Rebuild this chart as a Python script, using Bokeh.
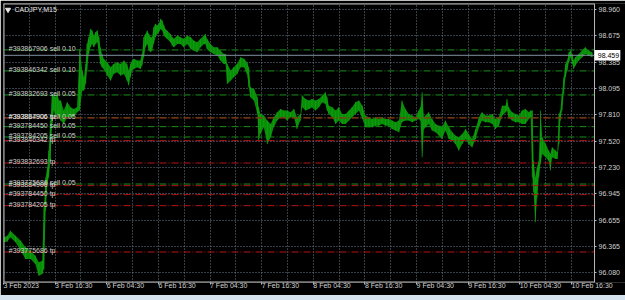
from bokeh.plotting import figure
from bokeh.models import Range1d, FixedTicker, PrintfTickFormatter, Spacer
from bokeh.layouts import column
from bokeh.core.properties import value
from bokeh.embed import file_html
from bokeh.resources import INLINE

symbol = "CADJPY,M15"

# x axis: hours of trading time since first bar (3 Feb 2023 04:30)
x_tick_hours = [0, 12, 24, 36, 48, 60, 72, 84, 96, 108, 120, 132]
x_tick_labels = ["3 Feb 2023", "3 Feb 16:30", "6 Feb 04:30", "6 Feb 16:30", "7 Feb 04:30",
                 "7 Feb 16:30", "8 Feb 04:30", "8 Feb 16:30", "9 Feb 04:30", "9 Feb 16:30",
                 "10 Feb 04:30", "10 Feb 16:30"]
x_grid_hours = [0, 6, 12, 18, 24, 30, 36, 42, 48, 54, 60, 66, 72, 78, 84, 90, 96, 102,
                108, 114, 120, 126, 132]
price_ticks = [98.960, 98.675, 98.385, 98.095, 97.810, 97.520, 97.230, 96.945, 96.655, 96.365, 96.080]
bid = 98.459

t = [0.1, 0.9, 1.6, 2.8, 4.0, 5.1, 6.3, 7.4, 8.2, 9.0,
     9.4, 9.8, 10.2, 10.5, 10.9, 11.3, 11.7, 12.1, 12.5, 12.9,
     13.3, 14.0, 14.8, 15.6, 16.3, 17.1, 17.7, 18.3, 18.7, 19.1,
     19.4, 19.8, 20.2, 20.6, 21.0, 21.4, 21.8, 22.2, 22.5, 22.9,
     23.3, 24.1, 24.9, 25.6, 26.4, 27.2, 28.0, 28.7, 29.1, 29.5,
     29.9, 30.3, 31.1, 31.8, 32.2, 32.6, 33.0, 33.4, 33.8, 34.2,
     34.5, 34.9, 35.3, 35.7, 36.1, 36.5, 36.9, 37.3, 37.6, 38.0,
     38.8, 39.2, 39.6, 40.4, 41.1, 41.9, 42.7, 43.5, 44.2, 45.0,
     45.8, 46.6, 46.9, 47.3, 48.1, 48.9, 49.7, 50.4, 51.2, 51.6,
     52.0, 52.8, 53.5, 54.3, 55.1, 55.9, 56.6, 57.0, 57.4, 58.2,
     59.0, 59.3, 59.7, 60.5, 61.3, 62.1, 62.8, 63.6, 64.4, 65.1,
     65.9, 66.7, 67.5, 68.2, 69.0,
     69.4, 70.2, 71.0, 71.7, 72.5, 73.3, 74.1, 74.8, 75.2, 75.6,
     76.4, 77.2, 77.9, 78.7, 79.5, 80.3, 81.0, 81.8, 82.6, 83.4,
     84.1, 84.9, 85.7, 86.4, 87.2, 88.0, 88.8, 89.5, 90.3, 91.1,
     91.9, 92.6, 93.4, 94.2, 95.0, 95.7, 96.5, 96.9, 97.3, 97.7,
     98.1, 98.8, 99.6, 100.4, 101.2, 101.9, 102.7, 103.5, 104.3, 105.0,
     105.8, 106.6, 107.4, 108.1, 108.9, 109.7, 110.5, 111.2, 112.0, 112.8,
     113.6, 114.3, 115.1, 115.9, 116.7, 117.0, 117.4, 118.2, 119.0, 119.8,
     120.5, 121.3, 122.1, 122.5, 122.9, 123.2, 123.6, 124.0, 124.4, 124.8,
     125.2, 126.0, 126.7, 127.1, 127.5, 128.3, 128.7, 129.1, 129.4, 129.8,
     130.2, 130.6, 131.0, 131.4, 131.8, 132.2, 132.5, 132.9, 133.7, 134.5,
     135.2, 136.0, 136.8]

high = [96.466, 96.485, 96.539, 96.485, 96.430, 96.357, 96.320, 96.266, 96.193, 96.211,
        96.795, 97.123, 97.233, 97.416, 97.744, 98.036, 98.018, 98.000, 98.036, 97.963,
        97.963, 97.854, 97.945, 97.890, 97.872, 97.890, 98.529, 98.292, 98.219, 98.365,
        98.584, 98.657, 98.748, 98.730, 98.675, 98.712, 98.730, 98.657, 98.547, 98.474,
        98.420, 98.383, 98.328, 98.365, 98.383, 98.365, 98.401, 98.365, 98.292, 98.365,
        98.401, 98.420, 98.401, 98.401, 98.474, 98.657, 98.693, 98.730, 98.693, 98.657,
        98.657, 98.766, 98.803, 98.785, 98.803, 98.858, 98.839, 98.785, 98.748, 98.730,
        98.693, 98.657, 98.639, 98.675, 98.657, 98.639, 98.675, 98.657, 98.620, 98.602,
        98.639, 98.675, 98.693, 98.639, 98.584, 98.547, 98.547, 98.511, 98.474, 98.474,
        98.365, 98.292, 98.328, 98.365, 98.438, 98.420, 98.383, 98.328, 98.109, 98.091,
        98.000, 97.890, 97.817, 97.799, 97.744, 97.708, 97.781, 97.835, 97.872, 97.854,
        97.854, 97.835, 97.872, 97.781, 97.817,
        98.018, 97.981, 97.963, 97.981, 97.963, 97.981, 98.018, 98.054, 98.000, 97.908,
        97.890, 97.854, 97.890, 97.817, 97.817, 97.854, 97.890, 97.945, 97.963, 97.908,
        97.799, 97.781, 97.762, 97.781, 97.762, 97.781, 97.762, 97.762, 97.744, 97.726,
        97.744, 97.963, 97.872, 97.817, 97.799, 97.781, 97.854, 97.890, 98.054, 97.781,
        97.799, 97.835, 97.762, 97.708, 97.689, 97.671, 97.744, 97.671, 97.616, 97.580,
        97.562, 97.598, 97.653, 97.598, 97.543, 97.653, 97.781, 97.835, 97.799, 97.799,
        97.817, 97.762, 97.781, 97.908, 97.908, 97.981, 97.890, 97.835, 97.817, 97.799,
        97.854, 97.872, 97.835, 97.854, 97.854, 97.306, 97.123, 97.233, 97.306, 97.854,
        97.562, 97.489, 97.416, 97.379, 97.452, 97.416, 97.397, 97.817, 97.854, 98.036,
        98.219, 98.365, 98.401, 98.493, 98.511, 98.474, 98.401, 98.438, 98.474, 98.511,
        98.547, 98.511, 98.493]

low = [96.412, 96.422, 96.466, 96.412, 96.320, 96.229, 96.229, 96.174, 96.047, 96.065,
       96.119, 96.758, 97.050, 97.123, 97.306, 97.708, 97.854, 97.781, 97.817, 97.781,
       97.744, 97.708, 97.781, 97.781, 97.781, 97.835, 97.854, 98.073, 98.073, 98.146,
       98.292, 98.474, 98.547, 98.584, 98.547, 98.584, 98.602, 98.474, 98.365, 98.328,
       98.310, 98.237, 98.182, 98.255, 98.274, 98.237, 98.255, 98.182, 98.128, 98.219,
       98.292, 98.310, 98.328, 98.310, 98.347, 98.438, 98.547, 98.584, 98.511, 98.493,
       98.511, 98.584, 98.657, 98.693, 98.712, 98.748, 98.730, 98.675, 98.657, 98.639,
       98.602, 98.566, 98.547, 98.584, 98.584, 98.547, 98.584, 98.529, 98.511, 98.493,
       98.547, 98.584, 98.584, 98.529, 98.493, 98.474, 98.456, 98.401, 98.365, 98.365,
       98.146, 98.182, 98.219, 98.255, 98.328, 98.328, 98.255, 98.109, 98.000, 97.963,
       97.817, 97.525, 97.598, 97.671, 97.489, 97.562, 97.671, 97.744, 97.781, 97.781,
       97.744, 97.781, 97.781, 97.653, 97.744,
       97.890, 97.854, 97.872, 97.890, 97.854, 97.890, 97.945, 97.927, 97.854, 97.817,
       97.781, 97.708, 97.744, 97.708, 97.708, 97.744, 97.781, 97.817, 97.854, 97.762,
       97.671, 97.671, 97.671, 97.689, 97.689, 97.708, 97.689, 97.689, 97.653, 97.635,
       97.616, 97.726, 97.744, 97.744, 97.726, 97.744, 97.762, 97.744, 97.343, 97.653,
       97.671, 97.708, 97.635, 97.616, 97.580, 97.543, 97.635, 97.543, 97.525, 97.489,
       97.416, 97.489, 97.543, 97.489, 97.452, 97.543, 97.671, 97.744, 97.726, 97.726,
       97.708, 97.653, 97.689, 97.799, 97.835, 97.854, 97.781, 97.744, 97.726, 97.726,
       97.708, 97.708, 97.762, 97.781, 97.123, 96.959, 96.631, 96.904, 97.123, 97.270,
       97.379, 97.343, 97.306, 97.197, 97.343, 97.324, 97.324, 97.489, 97.744, 97.854,
       98.036, 98.219, 98.292, 98.383, 98.438, 98.365, 98.310, 98.347, 98.401, 98.438,
       98.474, 98.456, 98.438]

order_ids = ["393867906", "393846342", "393832693", "393884906", "393784450", "393784205", "393775686"]
order_lots = ["0.10", "0.10", "0.05", "0.05", "0.05", "0.05", "0.05"]
sell_prices = [98.518, 98.288, 98.025, 97.775, 97.678, 97.565, 97.050]
tp_prices = [97.773, 97.525, 97.280, 97.032, 96.934, 96.813, 96.306]

FONT = value("Liberation Sans")
GREEN_LVL = "#1a8f1a"
RED_LVL = "#b41414"
FRAME_C = "#b8b8b8"
X_END = 137.35      # right edge of the price area (last bar + shift)
X_FULL = 144.55     # right edge of the window (price-scale strip included)
Y0, Y1 = 95.972, 99.026

p = figure(width=625, height=295,
           x_range=Range1d(0, X_FULL), y_range=Range1d(Y0, Y1),
           output_backend="svg", toolbar_location=None,
           y_axis_location="right",
           min_border_left=3, min_border_right=0, min_border_top=3, min_border_bottom=13,
           background_fill_color="black", border_fill_color="black")
p.outline_line_color = None

# grids
p.xgrid.ticker = FixedTicker(ticks=x_grid_hours)
p.ygrid.ticker = FixedTicker(ticks=price_ticks)
for g in (p.xgrid, p.ygrid):
    g.grid_line_color = "#778899"
    g.grid_line_dash = "1 2"
    g.grid_line_alpha = 0.9

# bottom axis (labels start at their tick, as in MT4)
xa = p.xaxis[0]
xa.ticker = FixedTicker(ticks=x_tick_hours)
xa.major_label_overrides = {h: s for h, s in zip(x_tick_hours, x_tick_labels)}
xa.axis_line_color = None
xa.major_tick_line_color = FRAME_C
xa.major_tick_out = 2
xa.major_tick_in = 0
xa.minor_tick_line_color = None
xa.minor_tick_out = 0
xa.major_label_standoff = 1
xa.major_label_orientation = -0.0001
xa.major_label_text_font = "Liberation Sans"
xa.major_label_text_font_size = "7px"
xa.major_label_text_color = "#d0d0d0"

# price scale pinned at the right edge of the price area
ya = p.yaxis[0]
ya.fixed_location = X_END
ya.ticker = FixedTicker(ticks=price_ticks)
ya.formatter = PrintfTickFormatter(format="%.3f")
ya.axis_line_color = None
ya.major_tick_line_color = FRAME_C
ya.major_tick_out = 2
ya.major_tick_in = 0
ya.minor_tick_line_color = None
ya.minor_tick_out = 0
ya.minor_tick_in = 0
ya.major_label_standoff = 2
ya.major_label_text_font = "Liberation Sans"
ya.major_label_text_font_size = "7px"
ya.major_label_text_color = "#d0d0d0"

# black strip for the price scale, hiding the grid there
p.quad(left=[X_END], right=[X_FULL], bottom=[Y0], top=[Y1],
       fill_color="black", line_color=None)

# price series (bar ranges)
p.varea(x=t, y1=low, y2=high, fill_color="#088c08")
p.segment(x0=t, y0=low, x1=t, y1=high, line_color="#14a614", line_width=1, line_alpha=0.7)

# order levels
n = len(sell_prices)
p.segment(x0=[0] * n, x1=[X_END] * n, y0=sell_prices, y1=sell_prices,
          line_color=GREEN_LVL, line_dash="7 2 1 2", line_width=1)
p.segment(x0=[0] * n, x1=[X_END] * n, y0=tp_prices, y1=tp_prices,
          line_color=RED_LVL, line_dash="7 2 1 2", line_width=1)
p.segment(x0=[0], x1=[X_END], y0=[bid], y1=[bid], line_color="#8090a0", line_width=1)

sell_texts = ["#%s sell %s" % (i, l) for i, l in zip(order_ids, order_lots)]
tp_texts = ["#%s tp" % i for i in order_ids]
lbl_x = 1.23
p.text(x=[lbl_x] * n, y=sell_prices, text=sell_texts,
       text_font=FONT, text_font_size="7px", text_color="#d0d0d0",
       text_baseline="alphabetic", y_offset=-1.5)
p.text(x=[lbl_x] * n, y=tp_prices, text=tp_texts,
       text_font=FONT, text_font_size="7px", text_color="#d0d0d0",
       text_baseline="alphabetic", y_offset=-1.5)

# frame lines of the price area
p.segment(x0=[0, 0, 0], x1=[X_END, X_END, 0], y0=[Y0, Y1, Y0], y1=[Y0, Y1, Y1],
          line_color=FRAME_C, line_width=2)
p.segment(x0=[X_END], x1=[X_END], y0=[Y0], y1=[Y1], line_color=FRAME_C, line_width=1)

# bid price box
p.quad(left=[X_END], right=[X_END + 6.0], bottom=[bid - 0.058], top=[bid + 0.058],
       fill_color="white", line_color=None)
p.text(x=[X_END + 0.75], y=[bid], text=["%.3f" % bid], text_font=FONT,
       text_font_size="7px", text_color="black", text_baseline="middle")

# symbol title
p.scatter(x=[1.05], y=[98.958], marker="inverted_triangle", size=5,
          fill_color="#e8e8e8", line_color="#e8e8e8")
p.text(x=[2.56], y=[98.960], text=[symbol], text_font=FONT, text_font_size="7px",
       text_color="#e8e8e8", text_baseline="middle")

strip = Spacer(width=625, height=5, styles={"background-color": "#d4e2f0"})
layout = column(p, strip)

open("out.html", "w").write(file_html(layout, INLINE))
